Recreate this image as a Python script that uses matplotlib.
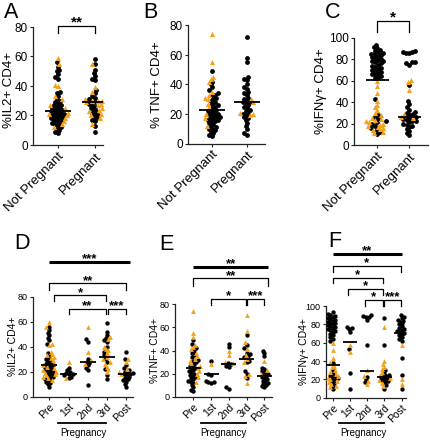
import numpy as np
import matplotlib
matplotlib.use('Agg')
import matplotlib.pyplot as plt
from matplotlib.transforms import blended_transform_factory

plt.rcParams['font.family'] = ['Liberation Sans', 'DejaVu Sans']

ORANGE = '#F7A11A'

# ---------------- data ----------------
top_cats = ['Not Pregnant', 'Pregnant']
bot_cats = ['Pre', '1st', '2nd', '3rd', 'Post']

# Panel A  (%IL2+ CD4+)
A_np_black = [56, 53, 51, 50, 48, 46, 45, 36, 35, 33, 31, 30, 29, 28, 27, 27, 26, 25, 25, 24, 24, 23, 23,
              22, 22, 21, 21, 20, 20, 19, 19, 18, 18, 17, 17, 16, 15, 15, 14, 13, 12, 11, 10, 9, 8]
A_np_orange = [59, 55, 41, 40, 33, 31, 27, 25, 22, 21, 20, 18, 16, 14, 12]
A_p_black = [58, 55, 51, 49, 47, 45, 44, 37, 35, 33, 32, 31, 29, 28, 27, 26, 25, 24, 23, 22, 21, 20,
             19, 18, 17, 16, 13, 9]
A_p_orange = [55, 39, 36, 31, 30, 30, 30, 29, 28, 27, 25, 24, 23, 21, 20, 18, 14]
A_medians = [23, 29]

# Panel B  (%TNF+ CD4+)
B_np_black = [49, 42, 40, 38, 36, 34, 33, 32, 31, 30, 29, 28, 27, 26, 25, 24, 23, 22, 22, 21, 20, 20, 19,
              19, 18, 18, 17, 17, 16, 16, 15, 15, 14, 13, 12, 11, 10, 10, 9, 8, 7, 6, 5]
B_np_orange = [74, 55, 45, 44, 42, 35, 33, 31, 30, 27, 25, 20, 17, 12]
B_p_black = [72, 58, 55, 45, 44, 43, 40, 38, 37, 35, 34, 33, 31, 30, 29, 28, 28, 27, 26, 25, 24, 23,
             22, 21, 20, 19, 18, 17, 16, 14, 12, 10, 7, 6]
B_p_orange = [30, 28, 21, 20, 19]
B_medians = [23, 28]

# Panel C  (%IFNg+ CD4+)
C_np_black = [93, 91, 90, 89, 88, 87, 86, 85, 85, 84, 83, 82, 81, 80, 79, 78, 78, 77, 76, 75, 74, 73,
              72, 71, 70, 69, 68, 67, 66, 65, 64, 63, 62, 43, 28, 26, 24, 22, 21, 20, 18, 16, 14, 12, 10]
C_np_orange = [60, 55, 48, 41, 37, 35, 33, 30, 28, 25, 24, 23, 22, 21, 20, 19, 18, 17, 16, 15, 14, 12, 11]
C_p_black = [88, 87, 87, 86, 86, 77, 77, 76, 75, 56, 41, 38, 35, 33, 31, 30, 29, 28, 27, 26, 25, 24,
             23, 22, 22, 21, 20, 19, 18, 17, 15, 13, 11, 9]
C_p_orange = [61, 59, 51, 29, 26, 25]
C_medians = [61, 26]

# Panel D  (%IL2+ CD4+ by trimester)
D_black = [
    [56, 53, 51, 49, 47, 45, 42, 35, 33, 31, 30, 29, 28, 27, 26, 26, 25, 24, 23, 22, 22, 21, 20, 20,
     19, 18, 17, 16, 15, 14, 13, 12, 11, 10, 8],
    [23, 21, 20, 19, 18, 18, 17, 16, 15],
    [46, 44, 30, 28, 27, 25, 23, 21, 9],
    [59, 52, 49, 47, 45, 44, 40, 36, 33, 30, 28, 22, 17, 14],
    [36, 30, 25, 23, 21, 20, 19, 19, 18, 18, 17, 16, 15, 14, 13, 12, 10, 8],
]
D_orange = [
    [60, 56, 42, 41, 36, 34, 33, 32, 31, 29, 27, 25, 24, 23, 21, 20, 19, 18, 17, 16, 15, 13],
    [28, 15],
    [56, 36, 29, 26],
    [48, 46, 40, 38, 37, 35, 32, 30, 28, 26, 24, 22, 20],
    [30, 28, 22, 20, 18],
]
D_medians = [25, 18, 28, 32, 18]

# Panel E  (%TNF+ CD4+ by trimester)
E_black = [
    [49, 46, 42, 40, 38, 36, 34, 32, 31, 30, 28, 27, 26, 25, 24, 23, 22, 21, 20, 19, 18, 17, 16, 15,
     14, 13, 12, 10, 8, 6, 5],
    [31, 20, 19, 14, 13, 13, 12],
    [46, 43, 29, 28, 27, 26, 8, 7],
    [53, 45, 42, 38, 37, 35, 34, 31, 30, 22, 20, 16],
    [40, 38, 35, 25, 24, 22, 21, 20, 19, 18, 17, 16, 15, 14, 13, 12, 11, 10, 9, 8],
]
E_orange = [
    [74, 55, 52, 45, 43, 41, 38, 35, 33, 31, 29, 27, 25, 22, 20, 17, 13],
    [28],
    [40, 36, 30, 29],
    [71, 57, 47, 41, 36, 33, 30, 20, 18, 12],
    [31, 23, 20],
]
E_medians = [25, 20, 28, 33, 18]

# Panel F  (%IFNg+ CD4+ by trimester)
F_black = [
    [93, 91, 90, 89, 88, 87, 86, 85, 84, 83, 82, 81, 80, 79, 78, 77, 76, 75, 74, 73, 72, 70, 68, 66,
     64, 62, 38, 30, 26, 24, 23, 22, 21, 20, 18, 16, 13, 10],
    [77, 76, 75, 72, 53, 27, 10],
    [90, 89, 88, 88, 85, 58, 23, 20, 17],
    [87, 57, 30, 27, 25, 24, 23, 22, 21, 20, 19, 18, 17, 14, 10],
    [90, 88, 87, 85, 84, 83, 81, 80, 78, 76, 75, 74, 73, 72, 71, 70, 68, 66, 64, 62, 43, 25, 10],
]
F_orange = [
    [60, 52, 43, 39, 35, 33, 30, 28, 26, 24, 22, 20, 18, 17, 15, 13, 12],
    [58, 50],
    [30, 24, 18, 15],
    [77, 40, 37, 34, 31, 28, 25, 22, 19, 16, 13],
    [58, 20, 15],
]
F_medians = [36, 61, 29, 23, 71]

# ---------------- figure ----------------
W, H = 430, 440
fig = plt.figure(figsize=(W / 100, H / 100), dpi=100)


def make_ax(left, right, bottom, top, xlim, ylim):
    ax = fig.add_axes([left / W, 1 - bottom / H, (right - left) / W, (bottom - top) / H])
    ax.set_xlim(*xlim)
    ax.set_ylim(*ylim)
    ax.patch.set_alpha(0)
    for s in ['top', 'right']:
        ax.spines[s].set_visible(False)
    for s in ['left', 'bottom']:
        ax.spines[s].set_linewidth(0.9)
        ax.spines[s].set_color('#222222')
    ax.tick_params(length=2.2, width=0.8, color='#222222', pad=1.5)
    return ax


def swarm_x(ax, x0, values, d):
    vals = np.asarray(values, float)
    pts = ax.transData.transform(np.column_stack([np.full(len(vals), x0), vals]))
    ypix = pts[:, 1]
    xoff = np.zeros(len(vals))
    placed = []
    for i in np.argsort(ypix, kind='stable'):
        y = ypix[i]
        near = [(px, py) for px, py in placed if abs(py - y) < d]
        cands = [0.0]
        for px, py in near:
            dx = np.sqrt(d * d - (py - y) ** 2)
            cands += [px + dx, px - dx]
        cands.sort(key=lambda c: (abs(c), c))
        for c in cands:
            if all((c - px) ** 2 + (y - py) ** 2 >= d * d - 1e-6 for px, py in near):
                xoff[i] = c
                break
        placed.append((xoff[i], y))
    back = ax.transData.inverted().transform(np.column_stack([pts[:, 0] + xoff, ypix]))
    return back[:, 0]


def draw_groups(ax, blacks, oranges, medians, d, s_c, s_t, mw):
    for k, (b, o) in enumerate(zip(blacks, oranges)):
        vals = list(b) + list(o)
        xs = swarm_x(ax, k, vals, d)
        nb = len(b)
        ax.scatter(xs[:nb], b, s=s_c, marker='o', color='black', linewidths=0, zorder=3, clip_on=False)
        ax.scatter(xs[nb:], o, s=s_t, marker='^', color=ORANGE, linewidths=0, zorder=3, clip_on=False)
        ax.hlines(medians[k], k - mw, k + mw, color='black', lw=1.3, zorder=4)


def bracket(ax, x1, x2, y, drop, stars, fs, thick=False, dy_text=0.0):
    if thick:
        ax.plot([x1, x2], [y, y], color='black', lw=2.2, clip_on=False, solid_capstyle='butt')
    else:
        ax.plot([x1, x1, x2, x2], [y - drop, y, y, y - drop], color='black', lw=0.9, clip_on=False)
    ax.annotate(stars, xy=((x1 + x2) / 2, y), xytext=(0, -2.5 + dy_text), textcoords='offset points',
                ha='center', va='bottom', fontsize=fs, fontweight='bold', annotation_clip=False)


def set_xlabels(ax, cats, fs):
    ax.set_xticks(range(len(cats)))
    ax.set_xticklabels(cats, rotation=45, ha='right', va='top', rotation_mode='anchor', fontsize=fs)


# ---- top row ----
axA = make_ax(33, 103, 145, 27, (-0.676, 1.216), (0, 80))
axB = make_ax(188, 265, 143.5, 25.5, (-0.686, 1.514), (0, 80))
axC = make_ax(354, 428, 145, 37.7, (-0.72, 1.59), (0, 100))

for ax, bl, orr, med, ylab in [
    (axA, [A_np_black, A_p_black], [A_np_orange, A_p_orange], A_medians, '%IL2+ CD4+'),
    (axB, [B_np_black, B_p_black], [B_np_orange, B_p_orange], B_medians, '% TNF+ CD4+'),
    (axC, [C_np_black, C_p_black], [C_np_orange, C_p_orange], C_medians, '%IFN\u03b3+ CD4+'),
]:
    draw_groups(ax, bl, orr, med, 3.3, 12, 14, 0.36)
    set_xlabels(ax, top_cats, 9.5)
    ax.tick_params(axis='y', labelsize=8.5)
    ax.set_ylabel(ylab, fontsize=9.5)

axA.set_yticks([0, 20, 40, 60, 80])
axB.set_yticks([0, 20, 40, 60, 80])
axC.set_yticks([0, 20, 40, 60, 80, 100])
axA.yaxis.set_label_coords(-0.25, 0.47)
axB.yaxis.set_label_coords(-0.33, 0.5)
axC.yaxis.set_label_coords(-0.37, 0.5)

bracket(axA, 0, 1, 80.7, 4.7, '**', 11)
bracket(axC, 0, 1, 115.6, 10, '*', 11)

# ---- bottom row ----
axD = make_ax(33, 133, 396.5, 296.5, (-0.85, 4.36), (0, 80))
axE = make_ax(175, 272, 396.7, 304.3, (-1.03, 4.43), (0, 80))
axF = make_ax(325.5, 406, 397.7, 306, (-0.41, 4.26), (0, 100))

for ax, bl, orr, med, ylab in [
    (axD, D_black, D_orange, D_medians, '%IL2+ CD4+'),
    (axE, E_black, E_orange, E_medians, '%TNF+ CD4+'),
    (axF, F_black, F_orange, F_medians, '%IFN\u03b3+ CD4+'),
]:
    draw_groups(ax, bl, orr, med, 2.9, 10, 12, 0.42)
    set_xlabels(ax, bot_cats, 7.5)
    ax.tick_params(axis='y', labelsize=6.5)
    ax.set_ylabel(ylab, fontsize=7.5)

axD.set_yticks([0, 20, 40, 60, 80])
axE.set_yticks([0, 20, 40, 60, 80])
axF.set_yticks([0, 20, 40, 60, 80, 100])
axD.yaxis.set_label_coords(-0.15, 0.5)
axE.yaxis.set_label_coords(-0.15, 0.5)
axF.yaxis.set_label_coords(-0.2, 0.5)

# D brackets
bracket(axD, 0, 4.2, 107.9, 0, '***', 9.5, thick=True)
bracket(axD, 0, 4.0, 90.5, 5.2, '**', 9.5)
bracket(axD, 0.25, 2.95, 81, 4.5, '*', 9.5)
bracket(axD, 1.0, 2.93, 70.3, 4.6, '**', 9.5)
bracket(axD, 3.05, 4.0, 70.3, 4.6, '***', 9.5)
# E brackets
bracket(axE, 0, 4.2, 112.6, 0, '**', 9.5, thick=True)
bracket(axE, 0, 4.2, 102.5, 6.4, '**', 9.5)
bracket(axE, 1.0, 2.95, 84.6, 5.2, '*', 9.5)
bracket(axE, 3.05, 4.0, 84.6, 5.2, '***', 9.5)
# F brackets
bracket(axF, 0, 4.05, 156.7, 0, '**', 9.5, thick=True)
bracket(axF, 0, 3.97, 144, 6.6, '*', 9.5)
bracket(axF, 0, 2.9, 130.9, 6.1, '*', 9.5)
bracket(axF, 0.9, 2.9, 118.5, 6.5, '*', 9.5)
bracket(axF, 1.9, 2.9, 106.5, 6.5, '*', 9.5)
bracket(axF, 3.0, 3.97, 106.5, 6.5, '***', 9.5)

# Pregnancy annotations
for ax, x1, x2, xc in [(axD, 0.45, 2.95, 1.77), (axE, 0.43, 2.97, 1.67), (axF, 0.35, 2.96, 1.8)]:
    tr = blended_transform_factory(ax.transData, fig.transFigure)
    ax.plot([x1, x2], [1 - 423 / H] * 2, transform=tr, color='black', lw=1.3, clip_on=False)
    ax.text(xc, 1 - 433 / H, 'Pregnancy', transform=tr, ha='center', va='center', fontsize=7)

# panel letters
for letter, x, y in [('A', 4, 12), ('B', 143, 12), ('C', 325, 12),
                     ('D', 14, 243), ('E', 159, 245), ('F', 328, 241)]:
    fig.text(x / W, 1 - y / H, letter, fontsize=15.5, ha='left', va='center')

fig.savefig('out.png', dpi=100)
